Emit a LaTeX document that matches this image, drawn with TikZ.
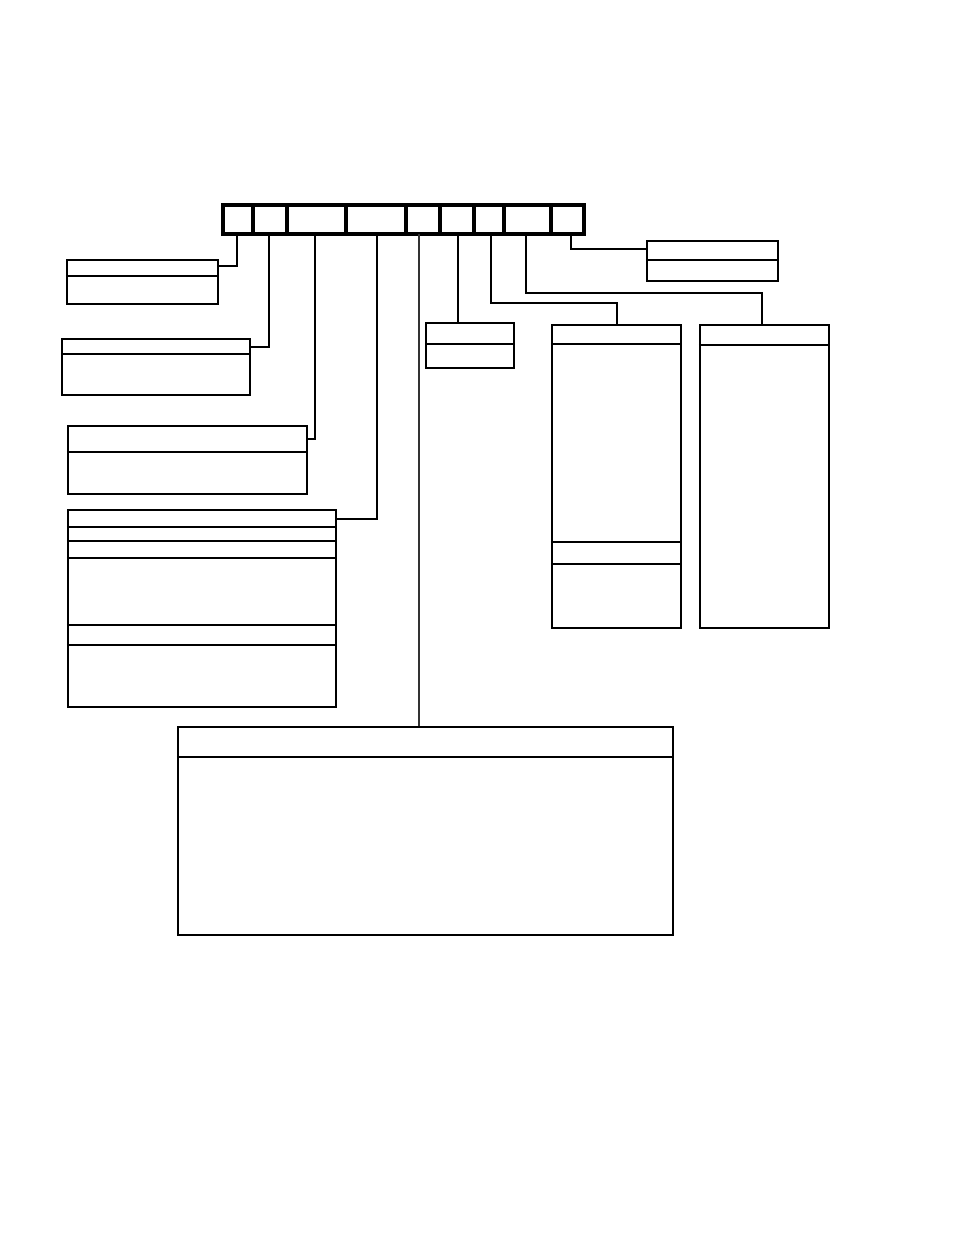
\documentclass[tikz,border=0pt]{standalone}
\usepackage{tikz}
\usetikzlibrary{fit,calc}
\tikzset{
  cell/.style={draw=black, line width=2.4pt, inner sep=0pt},
  box/.style={draw=black, line width=1.7pt, inner sep=0pt},
  rule/.style={draw=black, line width=1.7pt},
  wire/.style={draw=black, line width=0.8pt},
  greywire/.style={draw=black!80, line width=0.8pt}
}

\begin{document}
\begin{tikzpicture}[x=0.75pt, y=-0.75pt]
  \useasboundingbox (0,0) rectangle (954,1235);

  % top bar
  \node[cell, fit={(223,205) (253,234)}] (c1) {};
  \node[cell, fit={(253,205) (287,234)}] (c2) {};
  \node[cell, fit={(287,205) (346,234)}] (c3) {};
  \node[cell, fit={(346,205) (406,234)}] (c4) {};
  \node[cell, fit={(406,205) (440,234)}] (c5) {};
  \node[cell, fit={(440,205) (474,234)}] (c6) {};
  \node[cell, fit={(474,205) (504,234)}] (c7) {};
  \node[cell, fit={(504,205) (551,234)}] (c8) {};
  \node[cell, fit={(551,205) (584,234)}] (c9) {};

  % boxes
  \node[box, fit={(67,260) (218,304)}] (b1) {};
  \node[box, fit={(62,339) (250,395)}] (b2) {};
  \node[box, fit={(68,426) (307,494)}] (b3) {};
  \node[box, fit={(68,510) (336,707)}] (b4) {};
  \node[box, fit={(178,727) (673,935)}] (b5) {};
  \node[box, fit={(426,323) (514,368)}] (b6) {};
  \node[box, fit={(552,325) (681,628)}] (b7) {};
  \node[box, fit={(700,325) (829,628)}] (b8) {};
  \node[box, fit={(647,241) (778,281)}] (b9) {};

  % header rules
  \draw[rule] (b1.west |- 0,276) -- (b1.east |- 0,276);
  \draw[rule] (b2.west |- 0,354) -- (b2.east |- 0,354);
  \draw[rule] (b3.west |- 0,452) -- (b3.east |- 0,452);
  \foreach \y in {527,541,558,625,645}
    \draw[rule] (b4.west |- 0,\y) -- (b4.east |- 0,\y);
  \draw[rule] (b5.west |- 0,757) -- (b5.east |- 0,757);
  \draw[rule] (b6.west |- 0,344) -- (b6.east |- 0,344);
  \foreach \y in {344,542,564}
    \draw[rule] (b7.west |- 0,\y) -- (b7.east |- 0,\y);
  \draw[rule] (b8.west |- 0,345) -- (b8.east |- 0,345);
  \draw[rule] (b9.west |- 0,260) -- (b9.east |- 0,260);

  % connectors
  \coordinate (p1) at (237,234);
  \coordinate (p2) at (269,234);
  \coordinate (p3) at (315,234);
  \coordinate (p4) at (377,234);
  \coordinate (p5) at (419,234);
  \coordinate (p6) at (458,234);
  \coordinate (p7) at (491,234);
  \coordinate (p8) at (526,234);
  \coordinate (p9) at (571,234);

  \draw[wire] (p1) |- (b1.east |- 0,266);
  \draw[wire, line width=1.3pt] (p2) |- (b2.east |- 0,347);
  \draw[wire] (p3) |- (b3.east |- 0,439);
  \draw[wire] (p4) |- (b4.east |- 0,519);
  \draw[greywire] (p5) -- (b5.north -| p5);
  \draw[wire] (p6) -- (b6.north -| p6);
  \draw[wire] (p7) |- (617,303) -- (b7.north -| 617,0);
  \draw[wire, line width=1.1pt] (p8) |- (762,293) -- (b8.north -| 762,0);
  \draw[wire] (p9) |- (b9.west |- 0,249);
\end{tikzpicture}
\end{document}
